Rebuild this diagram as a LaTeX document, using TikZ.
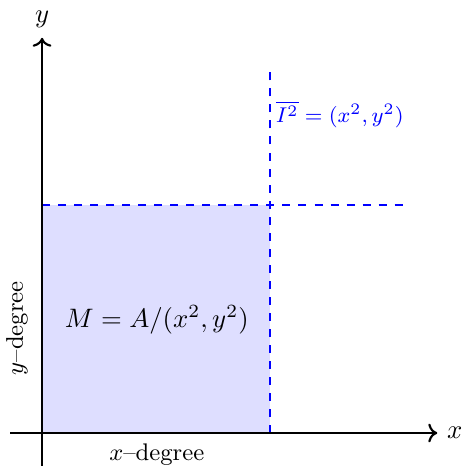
\documentclass[tikz,border=0pt]{standalone}
\usepackage{tikz}
\usetikzlibrary{positioning, arrows.meta, calc}
\tikzset{
  % axes and the quotient region
  degaxis/.style={thick, draw=black, ->},
  degcut/.style={thick, draw=blue, dashed},
  degregion/.style={fill=blue!13, draw=none},
  deglabel/.style={font=\small, inner sep=2pt},
}

\begin{document}
\begin{tikzpicture}[x=1cm, y=1cm]
  \useasboundingbox (-0.553,-0.5) rectangle (5.566,5.697);

  \coordinate (o) at (0,0);
  \coordinate (xs) at (-0.42,0);
  \coordinate (xe) at (5.2,0);
  \coordinate (ys) at (0,-0.43);
  \coordinate (ye) at (0,5.2);
  \coordinate (corner) at (3,3);
  \coordinate (vbot) at (3,0);
  \coordinate (vtop) at (3,4.75);
  \coordinate (hleft) at (0,3);
  \coordinate (hright) at (4.75,3);

  \fill[degregion] (o) rectangle (corner);

  \draw[degcut] (vbot) -- (vtop);
  \draw[degcut] (hleft) -- (hright);

  \draw[degaxis] (xs) -- (xe) node[right] (xlab) {$x$};
  \draw[degaxis] (ys) -- (ye) node[above] (ylab) {$y$};

  \node (quot) at (1.51,1.49) {$M = A/(x^2,y^2)$};
  \node[deglabel, font=\fontsize{8.5}{10}\selectfont, text=blue, anchor=north west] (ideal) at (3.0,4.45) {$\overline{I^2} = (x^2,y^2)$};
  \node[deglabel] (xdeg) at (1.51,-0.29) {$x$--degree};
  \node[deglabel, rotate=90] (ydeg) at (-0.33,1.38) {$y$--degree};
\end{tikzpicture}
\end{document}
